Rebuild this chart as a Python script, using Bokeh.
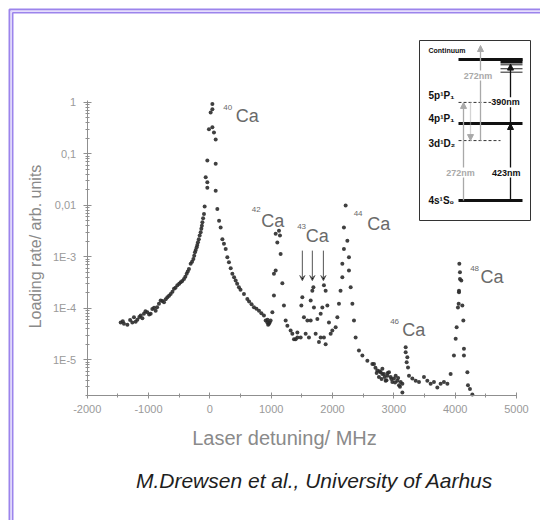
import math
from bokeh.plotting import figure
from bokeh.models import (Range1d, LinearScale, FixedTicker, CustomJSTickFormatter,
                          Label, Arrow, VeeHead, NormalHead, ColumnDataSource)
from bokeh.core.properties import value
from bokeh.embed import file_html
from bokeh.resources import INLINE

# ---------------- data ----------------
detuning_mhz = [
    -1454, -1420, -1401, -1345, -1300, -1264, -1238, -1210, -1182, -1150, -1128, -1100,
    -1075, -1050, -1019, -990, -965, -938, -910, -884, -860, -830, -802, -775, -748,
    -720, -693, -665, -639, -610, -585, -560, -530, -500, -476, -450, -422, -400, -378,
    -360, -341, -313, -290, -269, -255, -243, -230, -215, -205, -194, -180, -166, -150,
    -139, -130, -122, -110, -96, -85, -68, -41, -41, -41, -15, 13, 41, 41, 41, 67, 95,
    95, 95, 122, 150, 176, 204, 230, 258, 285, 311, 340, 367, 395, 421, 445, 474, 500,
    556, 611, 640, 680, 719, 760, 801, 840, 882, 910, 937, 940, 950, 964, 975, 991,
    1019, 1045, 1045, 1073, 1073, 1100, 1127, 1143, 1154, 1182, 1208, 1236, 1264, 1317,
    1345, 1372, 1399, 1427, 1427,
    1481, 1492, 1508, 1534, 1562, 1590, 1616, 1644, 1644, 1671, 1688, 1697, 1725, 1753,
    1779, 1807, 1807, 1834, 1860, 1860, 1888, 1888, 1916, 1942, 1970, 1997, 2051, 2079,
    2105, 2131, 2160, 2160, 2186, 2186, 2214, 2242, 2268, 2268, 2296, 2324, 2350, 2377,
    2431, 2487, 2568, 2650, 2676, 2700, 2720, 2731, 2757, 2770, 2785, 2800, 2813, 2813,
    2839, 2850, 2866, 2880, 2894, 2900, 2921, 2948, 2960, 2976, 3002, 3020, 3030, 3057,
    3070, 3084, 3100, 3111, 3139, 3139, 3193, 3193, 3209, 3220, 3231, 3247, 3302, 3356,
    3410, 3491, 3546, 3600, 3654, 3709, 3763, 3817, 3873, 3926, 3980, 4008, 4024, 4045,
    4057, 4062, 4062, 4068, 4078, 4078, 4100, 4117, 4133, 4143, 4143, 4199, 4209, 4241,
    4280,
]
loading_rate = [
    5.3e-5, 5.6e-5, 5.0e-5, 4.8e-5, 5.9e-5, 5.3e-5, 6.7e-5, 5.5e-5, 6.0e-5, 6.8e-5, 7.2e-5, 6.4e-5,
    7.8e-5, 8.8e-5, 8.4e-5, 7.6e-5, 7.8e-5, 9.7e-5, 1.02e-4, 9.0e-5, 1.05e-4, 1.22e-4, 1.41e-4, 1.38e-4, 1.31e-4,
    1.5e-4, 1.64e-4, 1.75e-4, 1.9e-4, 2.1e-4, 2.4e-4, 2.5e-4, 2.8e-4, 3.0e-4, 3.2e-4, 3.4e-4, 3.7e-4, 4.1e-4, 4.7e-4,
    5.2e-4, 5.8e-4, 7.3e-4, 8.0e-4, 9.1e-4, 1.05e-3, 1.22e-3, 1.35e-3, 1.53e-3, 1.7e-3, 1.91e-3, 2.2e-3, 2.6e-3, 3.0e-3,
    3.5e-3, 4.0e-3, 4.7e-3, 5.6e-3, 6.8e-3, 9.5e-3, 0.035, 0.074, 0.028, 0.022, 0.30, 0.64, 0.93, 0.74, 0.33, 0.26, 0.19,
    0.064, 0.0193, 8.5e-3, 5.0e-3, 3.7e-3, 2.2e-3, 1.8e-3, 1.42e-3, 9.8e-4, 7.8e-4, 6.0e-4, 4.7e-4, 4.0e-4, 3.45e-4, 3.0e-4, 2.56e-4, 2.3e-4,
    1.9e-4, 1.52e-4, 1.35e-4, 1.2e-4, 1.05e-4, 9.8e-5, 9.0e-5, 8.0e-5, 7.2e-5, 5.8e-5, 5.3e-5, 6.0e-5, 4.8e-5, 5.0e-5, 5.3e-5, 5.8e-5,
    8.4e-5, 4.7e-4, 1.77e-4, 5.4e-4, 2.8e-3, 1.9e-3, 3.2e-3, 2.6e-3, 1.14e-3, 3.05e-4, 1.13e-4, 5.8e-5, 4.6e-5, 3.7e-5,
    3.2e-5, 2.5e-5, 2.5e-5, 2.7e-5, 3.4e-5,
    2.7e-5, 1.13e-4, 1.64e-4, 6.7e-5, 3.2e-5, 5.8e-5, 2.7e-5, 1.41e-4, 5.8e-5, 2.2e-4, 2.56e-4, 1.04e-4, 3.2e-5, 6.2e-5,
    2.2e-5, 2.7e-5, 7.8e-5, 1.04e-4, 2.8e-4, 2.7e-5, 2.2e-4, 2.0e-5, 1.13e-4, 5.3e-5, 3.2e-5, 3.7e-5, 4.3e-5, 6.7e-5,
    1.22e-4, 2.2e-4, 4.0e-4, 7.3e-4, 1.42e-3, 3.7e-3, 9.9e-3, 2.06e-3, 9.8e-4, 5.4e-4, 2.56e-4, 1.22e-4, 5.8e-5, 2.7e-5,
    1.51e-5, 1.21e-5, 9.6e-6, 8.3e-6, 8.3e-6, 7.0e-6, 5.5e-6, 6.2e-6, 4.6e-6, 6.0e-6, 5.7e-6, 4.2e-6, 5.3e-6, 6.7e-6,
    5.3e-6, 4.6e-6, 3.9e-6, 4.0e-6, 4.9e-6, 5.5e-6, 5.7e-6, 4.6e-6, 4.2e-6, 3.7e-6, 4.3e-6, 3.6e-6, 4.9e-6, 3.9e-6,
    4.4e-6, 3.2e-6, 3.0e-6, 3.7e-6, 3.4e-6, 2.3e-6, 1.75e-5, 1.4e-5, 8.9e-6, 1.12e-5, 7.1e-6, 4.9e-6, 4.3e-6, 3.9e-6,
    3.7e-6, 4.6e-6, 3.9e-6, 3.4e-6, 3.7e-6, 2.9e-6, 3.4e-6, 3.7e-6, 3.4e-6, 5.3e-6, 1.21e-5, 2.55e-5, 4.3e-5, 1.04e-4,
    1.22e-4, 2.2e-4, 2.05e-4, 7.3e-4, 3.7e-4, 5.0e-4, 3.45e-4, 1.13e-4, 5.8e-5, 1.63e-5, 1.21e-5, 5.7e-6, 3.2e-6, 2.7e-6,
    2.1e-6,
]

# isotope labels (mass number, where the label sits in data space)
isotope_mass = ["40", "42", "43", "44", "46", "48"]
isotope_sup_x = [220, 682, 1423, 2345, 2940, 4244]
isotope_sup_y = [0.79, 8.3e-3, 3.9e-3, 6.9e-3, 5.5e-5, 5.9e-4]
isotope_ca_x = [421, 840, 1562, 2568, 3139, 4415]
isotope_ca_y = [0.55, 5.0e-3, 2.58e-3, 4.4e-3, 3.7e-5, 4.0e-4]

# 43Ca hyperfine arrows
hf_arrow_x = [1508, 1671, 1851]
hf_arrow_top = [1.32e-3, 1.32e-3, 1.32e-3]
hf_arrow_tip = [3.45e-4, 3.45e-4, 3.45e-4]

# axis ticks
xtick_values = [-2000, -1000, 0, 1000, 2000, 3000, 4000, 5000]
xtick_labels = ["-2000", "-1000", "0", "1000", "2000", "3000", "4000", "5000"]
xtick_minor = [-1500, -500, 500, 1500, 2500, 3500, 4500]
ytick_exps = [-5, -4, -3, -2, -1, 0]
ytick_labels = ["1E-5", "1E-4", "1E-3", "0,01", "0,1", "1"]

# inset: energy level scheme (schematic heights, 0..100 box units)
level_names = ["Continuum", "5p¹P₁", "4p¹P₁", "3d¹D₂", "4s¹S₀"]
level_height = [89.4, 65.6, 53.9, 44.4, 11.1]
level_label_height = [94.4, 69.6, 56.5, 42.6, 11.1]
level_dashed = [False, True, False, True, False]
rydberg_height = [86.5, 84.3, 82.4]

# ---------------- layout ----------------
W, H = 540, 520
PL, PT = 0, 0                      # page offset of the canvas
AX_L, AX_R, AX_B = 86.7, 516.0, 395.0   # axis extent in page px
X_MIN, X_MAX = -2000, 5000
DEC_PX = 51.46                     # pixels per decade
LOG_AT_AXIS = -5.695
sx = (AX_R - AX_L) / (X_MAX - X_MIN)
X_LO = X_MIN - (AX_L - PL) / sx
X_HI = X_MIN + (PL + W - AX_L) / sx
LOG_LO = LOG_AT_AXIS - (PT + H - AX_B) / DEC_PX
LOG_HI = LOG_LO + H / DEC_PX
Y_AXIS_BOTTOM = 10 ** LOG_AT_AXIS

IN_L, IN_R, IN_T, IN_B = 419, 530, 40, 220        # inset box in page px
def ix(px):
    return (px - IN_L) / (IN_R - IN_L) * 100.0
def iy(py):
    return (IN_B - py) / (IN_B - IN_T) * 100.0

FONT = "Liberation Sans"

p = figure(width=W, height=H, output_backend="svg", toolbar_location=None,
           x_range=Range1d(X_LO, X_HI), y_range=Range1d(10 ** LOG_LO, 10 ** LOG_HI),
           y_axis_type="log", min_border_left=0, min_border_right=0,
           min_border_top=0, min_border_bottom=0, min_border=0,
           background_fill_color="white", border_fill_color="white",
           outline_line_color=None)
p.grid.visible = False

p.extra_x_ranges = {"pg": Range1d(PL, PL + W), "inset": Range1d(ix(PL), ix(PL + W))}
p.extra_y_ranges = {"pg": Range1d(PT + H, PT), "inset": Range1d(iy(PT + H), iy(PT))}
p.extra_y_scales = {"pg": LinearScale(), "inset": LinearScale()}
PG = dict(x_range_name="pg", y_range_name="pg")

# purple slide frame
p.line([9.0, 9.0, PL + W], [PT + H, 9.0, 9.0], line_color="#9c84ec", line_width=2, **PG)
p.line([10.6, 10.6, PL + W], [PT + H, 10.6, 10.6], line_color="#ddd4fb", line_width=1.2, **PG)
p.line([12.2, 12.2, PL + W], [PT + H, 12.2, 12.2], line_color="#9c84ec", line_width=1.6, **PG)

# axes (drawn at fixed data positions inside the frame)
AX = "#8f8f8f"
xa = p.xaxis[0]
xa.fixed_location = Y_AXIS_BOTTOM
xa.bounds = (X_MIN, X_MAX)
xa.ticker = FixedTicker(ticks=xtick_values, minor_ticks=xtick_minor)
xa.major_label_overrides = {v: s for v, s in zip(xtick_values, xtick_labels)}
ya = p.yaxis[0]
ya.fixed_location = X_MIN
ya.bounds = (Y_AXIS_BOTTOM, 10 ** 0.04)
ya.ticker = FixedTicker(ticks=[10.0 ** e for e in ytick_exps],
                        minor_ticks=[m * 10.0 ** e for e in range(-6, 0) for m in range(2, 10)])
ya.formatter = CustomJSTickFormatter(args=dict(labels=ytick_labels, exps=ytick_exps), code="""
const e = Math.round(Math.log10(tick));
const i = exps.indexOf(e);
return i >= 0 ? labels[i] : "";
""")
for a, mi, mo, st in ((xa, 3, 3, 6), (ya, 4, 4, 7)):
    a.axis_line_color = AX
    a.major_tick_line_color = AX
    a.minor_tick_line_color = AX
    a.major_tick_in = mi
    a.major_tick_out = mo
    a.minor_tick_in = 2
    a.minor_tick_out = 2
    a.major_label_standoff = st
    a.major_label_text_color = "#9a9a9a"
    a.major_label_text_font = FONT
    a.major_label_text_font_size = "11px"

# data
p.scatter(detuning_mhz, loading_rate, size=4, fill_color="#2b2b2b", line_color=None, alpha=0.9)

# isotope labels
p.text(isotope_ca_x, isotope_ca_y, text=["Ca"] * len(isotope_ca_x), text_font=value(FONT),
       text_font_size="18px", text_color="#6a6a6a", text_baseline="middle", text_align="left")
p.text(isotope_sup_x, isotope_sup_y, text=isotope_mass, text_font=value(FONT),
       text_font_size="8px", text_color="#6a6a6a", text_baseline="middle", text_align="left")

hf_src = ColumnDataSource(dict(x=hf_arrow_x, y0=hf_arrow_top, y1=hf_arrow_tip))
p.add_layout(Arrow(end=VeeHead(size=5, line_color="#555", line_width=1), source=hf_src,
                   x_start="x", y_start="y0", x_end="x", y_end="y1",
                   line_color="#555", line_width=1))

# axis titles & caption (page-pixel coordinates)
p.text([35], [246], text=["Loading rate/ arb. units"], angle=math.pi / 2,
       text_font=value(FONT), text_font_size="16px", text_color="#8a8a8a",
       text_align="center", text_baseline="middle", **PG)
p.text([284], [437], text=["Laser detuning/ MHz"],
       text_font=value(FONT), text_font_size="20px", text_color="#8a8a8a",
       text_align="center", text_baseline="middle", **PG)
p.text([314], [480], text=["M.Drewsen et al., University of Aarhus"],
       text_font=value(FONT), text_font_size="21px", text_font_style="italic",
       text_color="#1e1e1e", text_align="center", text_baseline="middle", **PG)

# ---------------- inset: level scheme ----------------
R = dict(x_range_name="inset", y_range_name="inset")
p.quad(left=[0], right=[100], bottom=[0], top=[100], fill_color="white",
       line_color="#333333", line_width=1, **R)
LX0, LX1, LXD = ix(458), ix(522), ix(500)
for h, dashed in zip(level_height, level_dashed):
    if dashed:
        p.segment([LX0], [h], [LXD], [h], line_color="#333", line_width=1, line_dash="3 2", **R)
    else:
        p.segment([LX0], [h], [LX1], [h], line_color="#111", line_width=3, **R)
p.quad(left=[LXD], right=[LX1], bottom=[level_height[0] - 2.2], top=[level_height[0] + 0.8],
       fill_color="#111", line_color=None, **R)
for h in rydberg_height:
    p.segment([LXD], [h], [LX1], [h], line_color="#222", line_width=1, **R)

for name, h in zip(level_names, level_label_height):
    bold_size = "7px" if name == "Continuum" else "10px"
    p.add_layout(Label(x=ix(428), y=h, text=name, text_font=FONT, text_font_size=bold_size,
                       text_font_style="bold", text_color="#111", text_align="left",
                       text_baseline="middle", **R))

GRAY = "#a9a9a9"
arrows = [
    (ix(480), level_height[3], iy(45), GRAY, None),
    (ix(463), level_height[4], level_height[1], GRAY, None),
    (ix(470), level_height[1], level_height[3], GRAY, "1 1"),
    (ix(510), level_height[4], level_height[2], "#111", None),
    (ix(510), level_height[2], level_height[0] - 2.5, "#111", None),
]
for x0, y0, y1, c, dash in arrows:
    kw = dict(line_dash=dash) if dash else {}
    p.add_layout(Arrow(end=NormalHead(size=6, fill_color=c, line_color=c),
                       x_start=x0, y_start=y0, x_end=x0, y_end=y1,
                       line_color=c, line_width=1.3, **kw, **R))

wl_text = ["272nm", "390nm", "272nm", "423nm"]
wl_x = [ix(477.5), ix(505), ix(460), ix(505.8)]
wl_y = [iy(75), iy(101.7), iy(172), iy(172)]
wl_color = [GRAY, "#111", GRAY, "#111"]
for t, x, y, c in zip(wl_text, wl_x, wl_y, wl_color):
    p.add_layout(Label(x=x, y=y, text=t, text_font=FONT, text_font_size="9px",
                       text_font_style="bold", text_color=c, text_align="center",
                       text_baseline="middle", background_fill_color="white", **R))

open("out.html", "w").write(file_html(p, INLINE))
